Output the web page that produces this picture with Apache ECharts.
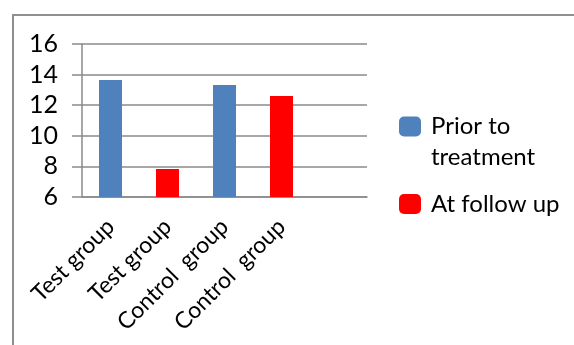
<!DOCTYPE html>
<html>
<head>
<meta charset="utf-8">
<script src="https://cdn.jsdelivr.net/npm/echarts@6/dist/echarts.min.js"></script>
<style>
  html, body { margin: 0; padding: 0; background: #fff; }
  #chart { width: 574px; height: 345px; }
</style>
</head>
<body>
<div id="chart"></div>
<script>
// data
const categories = ["Test group", "Test group", "Control  group", "Control  group", ""];
const priorValues = [13.65, "-", 13.32, "-", "-"];
const followValues = ["-", 7.83, "-", 12.6, "-"];
const seriesNames = ["Prior to treatment", "At follow up"];

const axisGrey = "#8a8a8a";
const font = "Lato";

const myChart = echarts.init(document.getElementById("chart"));
const options = {
  animation: false,
  textStyle: { fontFamily: font },
  grid: { left: 82, right: 207, top: 44, bottom: 148 },
  graphic: [
    {
      type: "rect",
      shape: { x: 13, y: 15, width: 700, height: 500 },
      style: { fill: "none", stroke: "#8f8f8f", lineWidth: 2 },
      silent: true
    }
  ],
  legend: [
    {
      orient: "vertical",
      left: 399,
      top: 80,
      padding: 0,
      itemWidth: 22,
      itemHeight: 20,
      icon: "roundRect",
      data: [seriesNames[0]],
      // empty first line keeps the icon level with "Prior to"
      formatter: function () {
        return "\u00a0\nPrior to\ntreatment";
      },
      textStyle: {
        fontFamily: font,
        fontSize: 24,
        color: "#000",
        lineHeight: 31,
        padding: [0, 0, 0, 5]
      }
    },
    {
      orient: "vertical",
      left: 399,
      top: 192,
      padding: 0,
      itemWidth: 22,
      itemHeight: 20,
      icon: "roundRect",
      data: [seriesNames[1]],
      textStyle: {
        fontFamily: font,
        fontSize: 24,
        color: "#000",
        padding: [3, 0, 0, 5]
      }
    }
  ],
  xAxis: {
    type: "category",
    data: categories,
    axisLine: { lineStyle: { color: axisGrey, width: 1.5 } },
    axisTick: { length: 5, lineStyle: { color: axisGrey, width: 1.5 } },
    axisLabel: {
      rotate: 45,
      interval: 0,
      margin: 26,
      fontFamily: font,
      fontSize: 23,
      color: "#000"
    }
  },
  yAxis: {
    type: "value",
    min: 6,
    max: 16,
    interval: 2,
    axisLine: { show: true, lineStyle: { color: axisGrey, width: 1.5 } },
    axisTick: { show: true, length: 10, lineStyle: { color: axisGrey, width: 1.5 } },
    splitLine: { lineStyle: { color: axisGrey, width: 1.5 } },
    axisLabel: {
      margin: 24,
      fontFamily: font,
      fontSize: 25,
      color: "#000"
    }
  },
  series: [
    {
      name: seriesNames[0],
      type: "bar",
      barWidth: 23,
      barGap: "-100%",
      itemStyle: { color: "#4F81BD" },
      data: priorValues
    },
    {
      name: seriesNames[1],
      type: "bar",
      barWidth: 23,
      barGap: "-100%",
      itemStyle: { color: "#FF0000" },
      data: followValues
    }
  ]
};
myChart.setOption(options);
window.addEventListener("resize", function () {
  myChart.resize();
});
</script>
</body>
</html>
